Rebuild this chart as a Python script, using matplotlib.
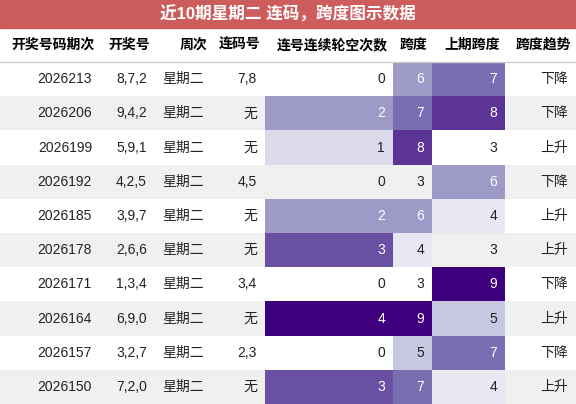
import matplotlib
matplotlib.use("Agg")
import matplotlib.pyplot as plt
from matplotlib.patches import Rectangle
import numpy as np

plt.rcParams['font.family'] = ['Liberation Sans', 'Noto Sans CJK SC', 'DejaVu Sans']

title = "近10期星期二 连码，跨度图示数据"
headers = ["开奖号码期次", "开奖号", "周次", "连码号", "连号连续轮空次数", "跨度", "上期跨度", "跨度趋势"]
periods = ["2026213", "2026206", "2026199", "2026192", "2026185", "2026178", "2026171", "2026164", "2026157", "2026150"]
numbers = ["8,7,2", "9,4,2", "5,9,1", "4,2,5", "3,9,7", "2,6,6", "1,3,4", "6,9,0", "3,2,7", "7,2,0"]
weekday = ["星期二"] * 10
lianma = ["7,8", "无", "无", "4,5", "无", "无", "3,4", "无", "2,3", "无"]
streak = [0, 2, 1, 0, 2, 3, 0, 4, 0, 3]
span = [6, 7, 8, 3, 6, 4, 3, 9, 5, 7]
prev_span = [7, 8, 3, 6, 4, 3, 9, 5, 7, 4]
trend = ["下降", "下降", "上升", "下降", "上升", "上升", "下降", "上升", "下降", "上升"]

W, H = 576, 404
fig = plt.figure(figsize=(W / 100, H / 100), dpi=100)
ax = fig.add_axes([0, 0, 1, 1])
ax.set_xlim(0, W)
ax.set_ylim(H, 0)
ax.axis('off')

cmap = plt.get_cmap('Purples')
edges = [0, 100, 155, 212, 265, 393, 432, 505, 576]
title_h, head_h = 28, 34
row_h = (H - title_h - head_h) / 10

ax.add_patch(Rectangle((0, 0), W, title_h, color='#cd5c5c'))
ax.text(W / 2, title_h / 2, title, color='white', fontsize=12, fontweight='bold', ha='center', va='center')
for i, h in enumerate(headers):
    ax.text(edges[i + 1] - 5, title_h + head_h / 2, h, fontsize=10, fontweight='bold', ha='right', va='center')
ax.plot([0, W], [title_h + head_h, title_h + head_h], color='#cccccc', lw=1)

def cellcolor(v, lo, hi):
    f = (v - lo) / (hi - lo)
    return cmap(f), ('white' if f > 0.4 else '#222222')

for r in range(10):
    y0 = title_h + head_h + r * row_h
    yc = y0 + row_h / 2
    if r % 2 == 1:
        ax.add_patch(Rectangle((0, y0), W, row_h, color='#f0f0f0', lw=0))
    vals = [periods[r], numbers[r], weekday[r], lianma[r], str(streak[r]), str(span[r]), str(prev_span[r]), trend[r]]
    colored = {4: (streak[r], 0, 4), 5: (span[r], 3, 9), 6: (prev_span[r], 3, 9)}
    for c, v in enumerate(vals):
        tc = '#222222'
        if c in colored:
            val, lo, hi = colored[c]
            bg, tc = cellcolor(val, lo, hi)
            if val > lo:
                ax.add_patch(Rectangle((edges[c], y0), edges[c + 1] - edges[c], row_h, color=bg, lw=0))
        ax.text(edges[c + 1] - 8, yc, v, fontsize=10, ha='right', va='center', color=tc)

fig.savefig("out.png", dpi=100)
